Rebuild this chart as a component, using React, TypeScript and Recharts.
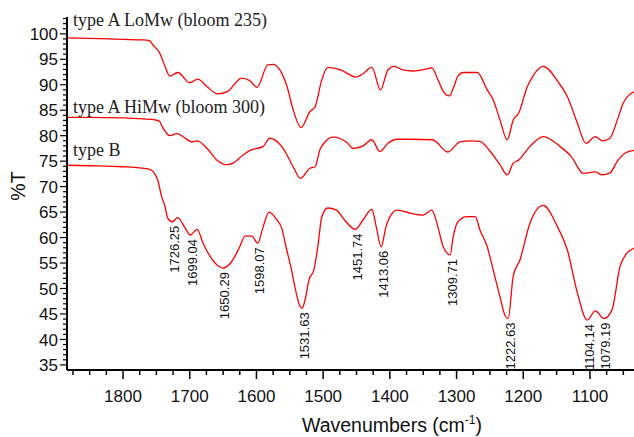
import { LineChart, Line, XAxis, YAxis, LabelList } from "recharts";

// wavenumbers (cm-1), descending, and %T
const waveLo = [1884, 1850, 1800, 1770, 1760, 1755, 1745, 1737, 1730, 1718, 1700, 1688, 1674, 1658, 1643, 1622, 1610, 1599, 1583, 1575, 1565, 1554, 1545, 1533, 1520, 1512, 1502, 1493, 1474, 1459, 1452, 1441, 1427, 1414, 1403, 1394, 1380, 1366, 1352, 1337, 1328, 1320, 1311, 1305, 1298, 1290, 1269, 1254, 1245, 1235, 1224, 1215, 1207, 1194, 1186, 1170, 1148, 1134, 1119, 1106, 1092, 1081, 1070, 1059, 1050, 1034];
const tLo = [99.2, 99.1, 98.9, 98.8, 98.6, 97.8, 96.2, 93.6, 91.7, 92.4, 90.4, 91.1, 89.6, 88.2, 88.7, 91.3, 90.8, 89.5, 93.9, 94.0, 92.9, 89.6, 85.1, 81.6, 84.7, 85.7, 91.0, 93.4, 92.9, 91.9, 91.5, 92.1, 93.4, 89.0, 92.9, 93.6, 92.9, 92.7, 92.9, 93.3, 91.0, 88.7, 87.8, 89.3, 91.7, 92.4, 92.4, 89.0, 87.0, 83.1, 79.2, 83.1, 84.4, 89.6, 91.6, 93.6, 90.6, 87.7, 82.5, 78.5, 79.8, 79.0, 79.5, 83.1, 86.4, 88.6];

const waveHi = [1884, 1850, 1800, 1770, 1752, 1746, 1740, 1730, 1719, 1710, 1697, 1689, 1674, 1659, 1644, 1635, 1620, 1608, 1599, 1590, 1580, 1560, 1545, 1534, 1520, 1512, 1505, 1497, 1485, 1464, 1455, 1440, 1427, 1415, 1403, 1389, 1370, 1336, 1313, 1295, 1280, 1265, 1250, 1235, 1224, 1215, 1207, 1190, 1170, 1145, 1128, 1110, 1092, 1082, 1070, 1058, 1047, 1034];
const tHi = [83.6, 83.6, 83.5, 83.3, 83.1, 82.9, 81.5, 80.0, 80.4, 79.8, 78.8, 79.0, 77.5, 75.2, 74.3, 74.6, 76.2, 77.2, 77.5, 77.9, 79.5, 77.5, 73.9, 71.6, 73.6, 73.9, 77.2, 78.8, 79.7, 78.6, 77.5, 78.0, 79.2, 76.9, 78.5, 79.3, 79.3, 79.2, 76.8, 78.8, 79.0, 78.9, 77.0, 74.3, 72.3, 74.6, 75.2, 77.9, 79.8, 77.9, 75.9, 72.6, 72.9, 72.3, 72.7, 75.2, 76.6, 77.1];

const waveB = [1884, 1850, 1800, 1775, 1760, 1755, 1748, 1742, 1737, 1733, 1726.25, 1718, 1708, 1699.04, 1689, 1680, 1669, 1657, 1650.29, 1637, 1625, 1617, 1607, 1598.07, 1590, 1581, 1570, 1562, 1555, 1548, 1541, 1535, 1531.63, 1527, 1521, 1514, 1508, 1502, 1493, 1480, 1470, 1451.74, 1440, 1427, 1421, 1413.06, 1406, 1398, 1389, 1370, 1350, 1337, 1328, 1320, 1309.71, 1305, 1298, 1284, 1272, 1265, 1254, 1245, 1235, 1227, 1222.63, 1215, 1205, 1190, 1170, 1149, 1134, 1119, 1104.14, 1092, 1079.19, 1067, 1055, 1045, 1034];
const tB = [74.2, 74.1, 73.9, 73.7, 73.4, 73.0, 71.3, 68.0, 66.1, 63.8, 63.1, 63.9, 62.1, 60.5, 61.6, 58.9, 56.2, 54.4, 54.0, 55.3, 58.2, 60.3, 60.3, 58.9, 62.1, 65.0, 63.6, 61.8, 57.8, 54.0, 49.5, 46.6, 46.1, 47.8, 51.8, 53.6, 58.2, 64.1, 65.8, 65.4, 63.8, 61.6, 63.5, 65.6, 62.5, 58.2, 62.0, 64.5, 65.4, 64.8, 64.4, 65.4, 62.1, 58.2, 56.6, 60.2, 63.1, 64.1, 64.1, 61.5, 58.2, 53.6, 48.4, 44.6, 44.1, 52.5, 55.6, 62.8, 66.3, 62.2, 57.6, 49.2, 43.8, 45.6, 44.1, 45.8, 54.3, 56.9, 57.9];

const peaksB = [1726.25, 1699.04, 1650.29, 1598.07, 1531.63, 1451.74, 1413.06, 1309.71, 1222.63, 1104.14, 1079.19];

const xMajor = [1100, 1200, 1300, 1400, 1500, 1600, 1700, 1800];
const yMajor = [35, 40, 45, 50, 55, 60, 65, 70, 75, 80, 85, 90, 95, 100];

const xTicks: number[] = [];
for (let v = 1050; v <= 1875; v += 25) xTicks.push(v);
const yTicks: number[] = [];
for (let v = 35; v <= 103; v += 1) yTicks.push(v);

const rows = (w: number[], t: number[]) =>
  w.map((x, i) => ({ w: x, t: t[i], peak: peaksB.includes(x) ? x.toFixed(2) : undefined }));

const SANS = "'Liberation Sans', Arial, Helvetica, sans-serif";
const SERIF = "'Liberation Serif', 'Times New Roman', serif";

const XTick = (props: any) => {
  const { x, y, payload } = props;
  const major = xMajor.includes(payload.value);
  return (
    <g>
      <line x1={x} x2={x} y1={y + 1} y2={y + (major ? 9 : 5)} stroke="#000" strokeWidth={1.5} />
      {major && (
        <text x={x} y={y + 32} textAnchor="middle" fontSize={17} fontFamily={SANS} fill="#111">
          {payload.value}
        </text>
      )}
    </g>
  );
};

const YTick = (props: any) => {
  const { x, y, payload } = props;
  const major = yMajor.includes(payload.value);
  return (
    <g>
      <line x1={x - 1} x2={x - (major ? 7 : 4)} y1={y} y2={y} stroke="#000" strokeWidth={1.2} />
      {major && (
        <text x={x - 9} y={y} dy="0.36em" textAnchor="end" fontSize={17} fontFamily={SANS} fill="#111">
          {payload.value}
        </text>
      )}
    </g>
  );
};

const PeakLabel = (props: any) => {
  const { x, y, value } = props;
  if (value === undefined || value === null) return null;
  const px = x + 2;
  const py = y + 4;
  return (
    <text
      x={px}
      y={py}
      transform={`rotate(-90 ${px} ${py})`}
      textAnchor="end"
      dominantBaseline="central"
      fontSize={13}
      fontFamily={SANS}
      fill="#111"
    >
      {value}
    </text>
  );
};

export default function App() {
  return (
    <div style={{ position: "relative", width: 634, height: 437 }}>
      <style>{`body{margin:0}`}</style>
      <LineChart width={634} height={437} margin={{ top: 17, right: 0, left: 0, bottom: 0 }}>
        <XAxis
          type="number"
          dataKey="w"
          domain={[1034, 1884]}
          reversed
          allowDataOverflow
          ticks={xTicks}
          interval={0}
          tickSize={0}
          tickMargin={0}
          tickLine={false}
          tick={<XTick />}
          axisLine={{ stroke: "#000", strokeWidth: 2 }}
          height={67}
        />
        <YAxis
          type="number"
          domain={[34, 103.3]}
          allowDataOverflow
          ticks={yTicks}
          interval={0}
          tickSize={0}
          tickMargin={0}
          tickLine={false}
          tick={<YTick />}
          axisLine={{ stroke: "#000", strokeWidth: 2 }}
          width={67}
        />
        <Line data={rows(waveLo, tLo)} dataKey="t" type="monotone" stroke="#ff0000" strokeWidth={1.3} dot={false} isAnimationActive={false} />
        <Line data={rows(waveHi, tHi)} dataKey="t" type="monotone" stroke="#ff0000" strokeWidth={1.3} dot={false} isAnimationActive={false} />
        <Line data={rows(waveB, tB)} dataKey="t" type="monotone" stroke="#ff0000" strokeWidth={1.3} dot={false} isAnimationActive={false}>
          <LabelList dataKey="peak" content={<PeakLabel />} />
        </Line>
      </LineChart>
      <svg width={634} height={437} style={{ position: "absolute", left: 0, top: 0, pointerEvents: "none" }}>
        <text x={73} y={26} fontSize={18} fontFamily={SERIF} fill="#222">type A LoMw (bloom 235)</text>
        <text x={73} y={113} fontSize={18} fontFamily={SERIF} fill="#222">type A HiMw (bloom 300)</text>
        <text x={73} y={156} fontSize={18} fontFamily={SERIF} fill="#222">type B</text>
        <text x={392} y={432} textAnchor="middle" fontSize={19.5} fontFamily={SANS} fill="#111">
          Wavenumbers (cm
          <tspan fontSize={12} dy={-8}>-1</tspan>
          <tspan dy={8}>)</tspan>
        </text>
        <text x={25} y={186} transform="rotate(-90 25 186)" textAnchor="middle" fontSize={19.5} fontFamily={SANS} fill="#111">
          %T
        </text>
      </svg>
    </div>
  );
}
